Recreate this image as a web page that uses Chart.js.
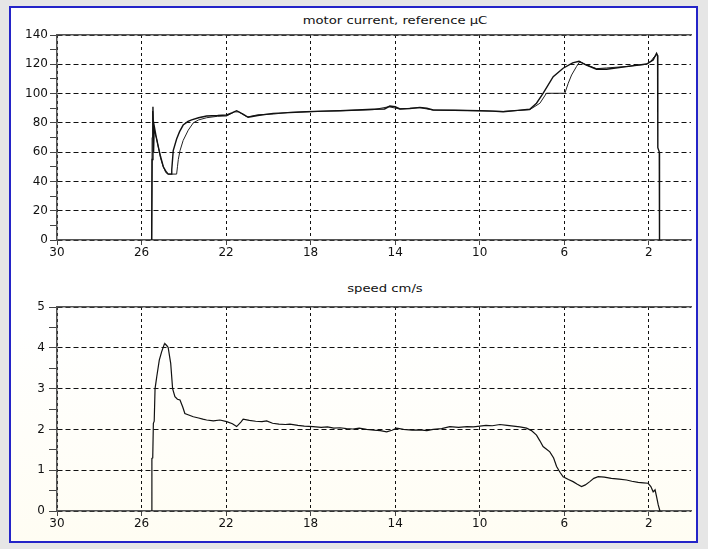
<!DOCTYPE html>
<html>
<head>
<meta charset="utf-8">
<script src="https://cdn.jsdelivr.net/npm/chart.js@4/dist/chart.umd.min.js"></script>
<style>
  body { margin: 0; width: 708px; height: 549px; background: #e6e6e6; overflow: hidden; position: relative; }
  #panel { position: absolute; left: 9px; top: 6px; width: 689px; height: 537px; box-sizing: border-box;
           border: 2px solid #2424c8; background: linear-gradient(#ffffff 60%, #fffdf3); }
  canvas { position: absolute; left: 0; }
  .title { position: absolute; font: 11px "DejaVu Sans", sans-serif; color: #111; white-space: nowrap;
           transform: translateX(-50%) scaleX(1.2); }
</style>
</head>
<body>
<div id="panel"></div>
<div class="title" id="t1" style="left:395px; top:14px;">motor current, reference µC</div>
<div class="title" id="t2" style="left:385px; top:282px;">speed cm/s</div>
<canvas id="current" width="708" height="268" style="top:0"></canvas>
<canvas id="speed" width="708" height="281" style="top:268px"></canvas>
<script>
// distance axis (reversed), shared by both plots
const xTicks = [30, 26, 22, 18, 14, 10, 6, 2];
const currentTicks = [0, 20, 40, 60, 80, 100, 120, 140];
const speedTicks = [0, 1, 2, 3, 4, 5];

// motor current
const motorX = [25.52, 25.50, 25.46, 25.43, 25.40, 25.30, 25.21, 25.10, 24.97, 24.85,
                24.74, 24.60, 24.57, 24.50, 24.34, 24.20, 24.03, 23.80, 23.63, 23.30,
                22.92, 22.40, 21.97, 21.70, 21.50, 21.20, 20.95, 20.50, 19.77, 19.00,
                18.19, 17.40, 16.61, 15.80, 15.04, 14.50, 14.25, 14.00, 13.77, 13.30,
                12.83, 12.50, 12.20, 11.20, 9.99, 9.40, 8.89, 8.20, 7.63, 7.31,
                7.00, 6.52, 6.05, 5.60, 5.30, 4.95, 4.47, 4.00, 3.05, 2.10,
                1.79, 1.63, 1.58, 1.57, 1.50, 1.49];
const motorY = [0, 55, 91, 60, 78, 70, 64, 57, 50, 47,
                45, 45, 48, 61, 69, 74, 78.5, 81, 82, 83.5,
                84.7, 85, 85.4, 87, 88.3, 86, 83.8, 85, 86.5, 87,
                87.6, 88, 88.3, 88.8, 89.3, 89.5, 91.5, 91, 89.5, 89.8,
                90.6, 90, 88.8, 88.6, 88.3, 88, 87.6, 88.5, 89.3, 93.4,
                100.2, 111.5, 117.3, 121, 122, 119.5, 116.6, 116.6, 118.4, 120.2,
                123, 127.5, 126, 63, 60, 0];

// reference
const refX = [25.52, 25.50, 25.47, 25.42, 25.30, 25.20, 25.10, 24.97, 24.85, 24.74,
              24.34, 24.30, 24.26, 24.18, 24.03, 23.79, 23.55, 23.30, 22.92, 22.40,
              21.97, 21.60, 21.40, 21.00, 20.50, 19.77, 19.00, 18.19, 16.61, 15.04,
              14.30, 13.80, 12.83, 12.20, 9.99, 8.89, 7.63, 7.15, 6.84, 5.97,
              5.81, 5.65, 5.42, 5.26, 4.95, 4.47, 4.00, 3.05, 2.50, 2.10,
              1.90, 1.75, 1.63];
const refY = [0, 70, 88, 75, 70, 63, 56, 50, 46, 45,
              45, 50, 55, 61, 68, 75, 80, 82, 83.5, 84.5,
              84.7, 87.5, 87.5, 84, 85.5, 86, 87.2, 87.6, 88.3, 89,
              91, 89.5, 90.3, 88.8, 88.3, 87.8, 89, 93.4, 100.2, 100.2,
              107, 112.7, 118.4, 121.8, 119.5, 117, 117.5, 118.5, 119.5, 120,
              122, 125, 126];

// speed cm/s
const speedX = [25.52, 25.51, 25.47, 25.44, 25.40, 25.36, 25.28, 25.16, 25.05, 24.92,
                24.89, 24.80, 24.74, 24.62, 24.53, 24.42, 24.30, 24.18, 24.05, 23.95,
                23.80, 23.55, 23.30, 23.10, 22.92, 22.60, 22.29, 21.97, 21.70, 21.50,
                21.30, 21.19, 20.90, 20.60, 20.30, 20.08, 19.80, 19.50, 19.20, 18.98,
                18.60, 18.30, 17.88, 17.50, 17.20, 16.90, 16.61, 16.30, 16.00, 15.70,
                15.35, 15.00, 14.70, 14.40, 14.15, 13.93, 13.60, 13.20, 12.83, 12.50,
                12.20, 11.80, 11.41, 11.00, 10.60, 10.30, 9.99, 9.70, 9.40, 9.04,
                8.70, 8.40, 8.10, 7.78, 7.55, 7.31, 7.15, 7.00, 6.85, 6.68,
                6.50, 6.36, 6.20, 6.05, 5.80, 5.58, 5.40, 5.18, 5.00, 4.79,
                4.60, 4.39, 4.10, 3.77, 3.40, 3.05, 2.80, 2.50, 2.25, 2.03,
                1.90, 1.79, 1.70, 1.63, 1.55, 1.47];
const speedY = [0, 1.29, 1.30, 2.15, 2.20, 3.00, 3.29, 3.70, 3.90, 4.09,
                4.10, 4.05, 4.01, 3.62, 3.00, 2.80, 2.74, 2.72, 2.55, 2.39,
                2.36, 2.31, 2.28, 2.25, 2.23, 2.21, 2.23, 2.19, 2.14, 2.07,
                2.18, 2.25, 2.22, 2.20, 2.19, 2.21, 2.15, 2.13, 2.12, 2.13,
                2.10, 2.08, 2.07, 2.05, 2.06, 2.03, 2.04, 2.02, 2.01, 2.03,
                2.00, 1.98, 1.97, 1.94, 1.98, 2.03, 2.00, 1.98, 1.99, 1.97,
                2.00, 2.02, 2.07, 2.05, 2.07, 2.06, 2.08, 2.10, 2.09, 2.12,
                2.10, 2.08, 2.06, 2.03, 1.97, 1.86, 1.72, 1.58, 1.52, 1.45,
                1.30, 1.09, 0.95, 0.84, 0.77, 0.72, 0.66, 0.60, 0.64, 0.72,
                0.80, 0.84, 0.83, 0.80, 0.78, 0.76, 0.73, 0.70, 0.69, 0.68,
                0.60, 0.47, 0.52, 0.35, 0.15, 0.00];

const pts = (xs, ys) => xs.map((x, i) => ({ x: x, y: ys[i] }));
const font = { family: 'DejaVu Sans', size: 12 };

function xAxis(h) {
    return {
        type: 'linear', min: 0, max: 30, reverse: true,
        afterBuildTicks: s => { s.ticks = xTicks.map(v => ({ value: v })); },
        afterFit: s => { s.height = h; },
        grid: { color: '#111', lineWidth: 1, tickLength: 5, tickColor: '#444' },
        border: { color: '#555', width: 1.5, dash: [3, 3] },
        ticks: { color: '#111', font: font, padding: 1, maxRotation: 0, autoSkip: false }
    };
}

function yAxis(max, step, majors, tickLen, pad) {
    return {
        min: 0, max: max,
        afterFit: s => { s.width = 57; },
        grid: {
            color: c => majors.includes(c.tick.value) ? '#111' : 'rgba(0,0,0,0)',
            tickColor: '#444', tickLength: tickLen, lineWidth: 1
        },
        border: { color: '#555', width: 1.5, dash: [5, 3] },
        ticks: {
            stepSize: step, color: '#111', font: font, padding: pad, autoSkip: false,
            callback: v => majors.includes(v) ? v : ''
        }
    };
}

// top border line of each plot
const topLine = {
    type: 'linear', position: 'top', min: 0, max: 30, reverse: true,
    afterFit: s => { s.height = 0; },
    grid: { color: 'rgba(0,0,0,0)', drawTicks: false },
    border: { color: '#555', width: 1.5 },
    ticks: { display: false }
};

const common = {
    responsive: false,
    animation: false,
    plugins: { legend: { display: false }, tooltip: { enabled: false } },
    elements: { point: { radius: 0 }, line: { tension: 0 } }
};

new Chart(document.getElementById('current'), {
    type: 'line',
    data: {
        datasets: [
            { label: 'motor current', data: pts(motorX, motorY), borderColor: '#111', borderWidth: 1.4 },
            { label: 'reference', data: pts(refX, refY), borderColor: '#222', borderWidth: 1 }
        ]
    },
    options: Object.assign({}, common, {
        layout: { padding: { left: 0, top: 35, right: 17, bottom: 0 } },
        scales: {
            x: xAxis(28),
            x2: topLine,
            y: yAxis(140, 10, currentTicks, 7, 2)
        }
    })
});

new Chart(document.getElementById('speed'), {
    type: 'line',
    data: {
        datasets: [
            { label: 'speed cm/s', data: pts(speedX, speedY), borderColor: '#111', borderWidth: 1.2 }
        ]
    },
    options: Object.assign({}, common, {
        layout: { padding: { left: 0, top: 39, right: 17, bottom: 0 } },
        scales: {
            x: xAxis(38),
            x2: topLine,
            y: yAxis(5, 0.5, speedTicks, 8, 4)
        }
    })
});
</script>
</body>
</html>
